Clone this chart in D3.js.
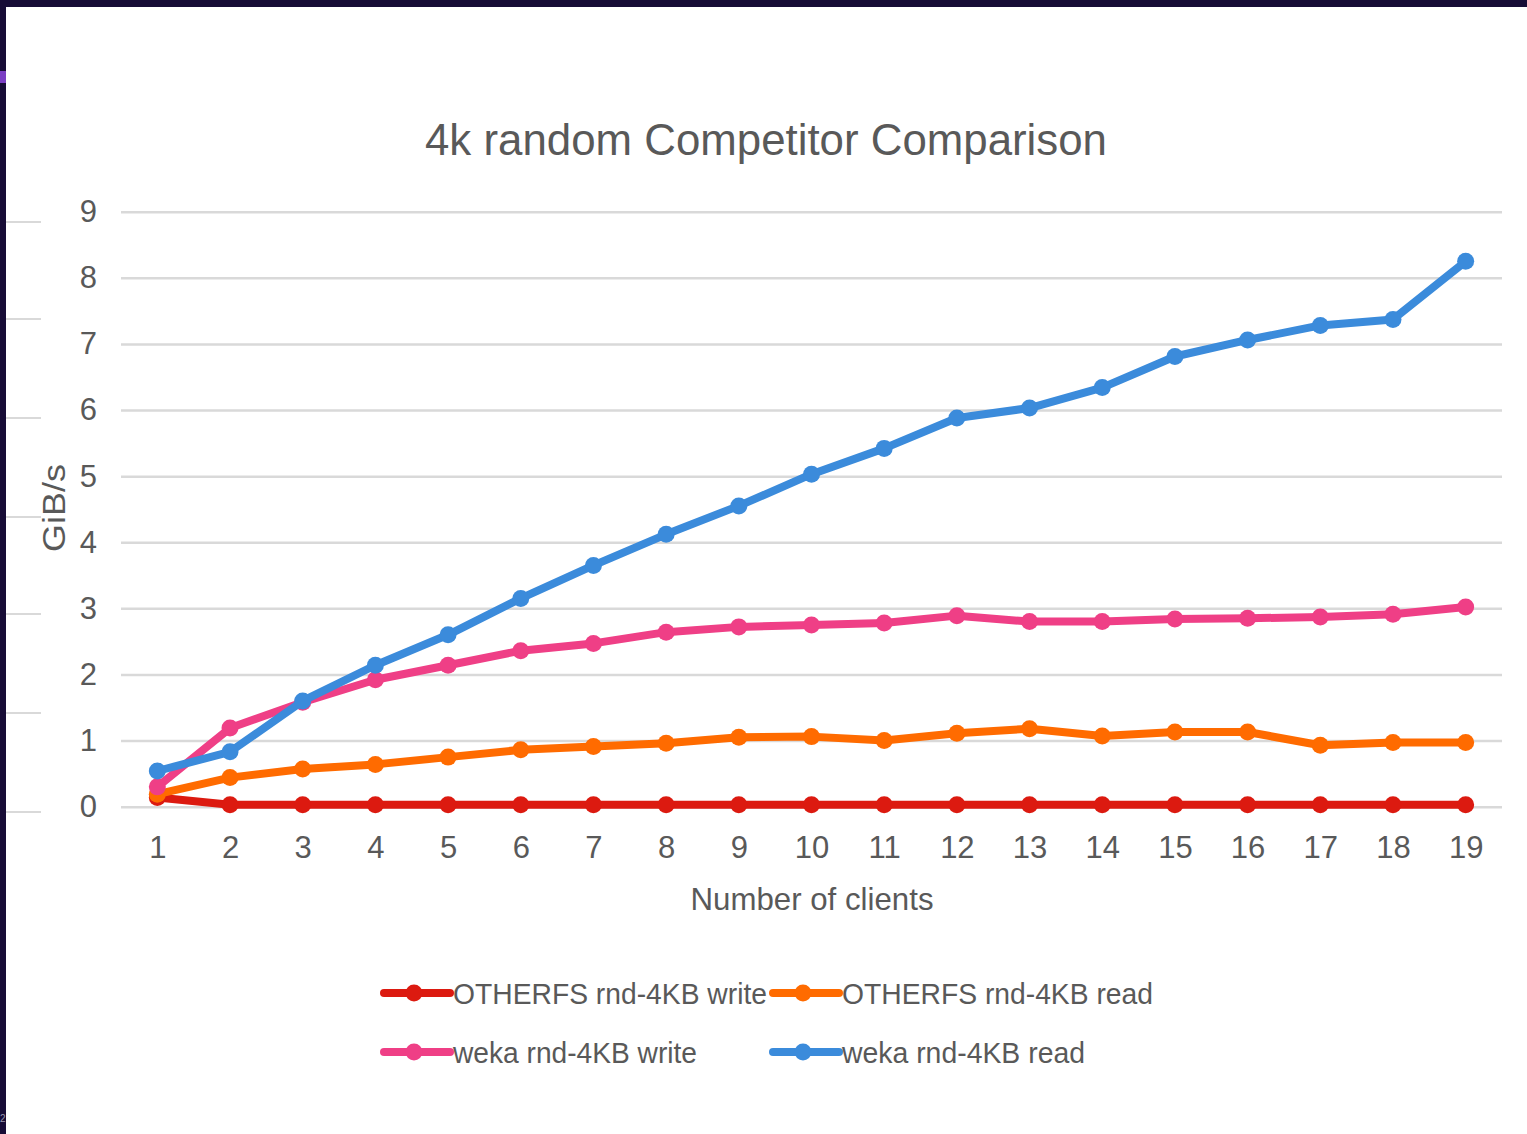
<!DOCTYPE html>
<html>
<head>
<meta charset="utf-8">
<script src="https://cdn.jsdelivr.net/npm/d3@7"></script>
<style>
  html, body { margin: 0; padding: 0; background: #ffffff; }
  svg { display: block; }
  text { font-family: "Liberation Sans", Arial, Helvetica, sans-serif; fill: #595959; }
</style>
</head>
<body>
<svg id="chart" width="1527" height="1134"></svg>
<script>
const clients = [1,2,3,4,5,6,7,8,9,10,11,12,13,14,15,16,17,18,19];
const yTicks = [0,1,2,3,4,5,6,7,8,9];

const otherfsWrite = [0.14,0.03,0.03,0.03,0.03,0.03,0.03,0.03,0.03,0.03,0.03,0.03,0.03,0.03,0.03,0.03,0.03,0.03,0.03];
const otherfsRead  = [0.19,0.44,0.57,0.64,0.75,0.86,0.91,0.96,1.05,1.06,1.00,1.11,1.18,1.07,1.13,1.13,0.93,0.97,0.97];
const wekaWrite    = [0.30,1.19,1.58,1.92,2.14,2.36,2.47,2.64,2.72,2.75,2.78,2.89,2.80,2.80,2.84,2.85,2.87,2.91,3.02];
const wekaRead     = [0.54,0.83,1.60,2.14,2.60,3.15,3.65,4.12,4.55,5.03,5.42,5.88,6.03,6.34,6.81,7.06,7.28,7.37,8.25];

const seriesNames  = ["OTHERFS rnd-4KB write","OTHERFS rnd-4KB read","weka rnd-4KB write","weka rnd-4KB read"];
const seriesColors = ["#dc1a10","#ff6b00","#ef3f86","#3b8bdb"];
const seriesValues = [otherfsWrite, otherfsRead, wekaWrite, wekaRead];

const chartTitle = "4k random Competitor Comparison";
const xTitle = "Number of clients";
const yTitle = "GiB/s";

const svg = d3.select("#chart");

// page frame decoration
svg.append("rect").attr("x",0).attr("y",0).attr("width",1527).attr("height",1134).attr("fill","#ffffff");
svg.append("rect").attr("x",0).attr("y",0).attr("width",1527).attr("height",7).attr("fill","#170c36");
svg.append("rect").attr("x",0).attr("y",0).attr("width",6).attr("height",1134).attr("fill","#170c36");
svg.append("rect").attr("x",0).attr("y",71).attr("width",6).attr("height",12).attr("fill","#7b3fc4");
svg.append("text").attr("x",0).attr("y",1122).attr("font-size",10).style("fill","#9a97b0").text("2");
// faint stray lines at left edge
[222,319,418,517,614,713,812].forEach(yy => {
  svg.append("line").attr("x1",6).attr("x2",41).attr("y1",yy).attr("y2",yy)
    .attr("stroke","#d9d9d9").attr("stroke-width",2);
});

const plotLeft = 121, plotRight = 1502, plotTop = 211.7, plotBottom = 806.7;

const x = d3.scalePoint().domain(clients).range([plotLeft, plotRight]).padding(0.5);
const y = d3.scaleLinear().domain([0, 9]).range([plotBottom, plotTop]);

// Title
svg.append("text").attr("x", 766).attr("y", 155).attr("text-anchor","middle")
  .attr("font-size", 45).attr("textLength", 682).attr("lengthAdjust","spacingAndGlyphs")
  .text(chartTitle);

// Y axis with gridlines
const yAxis = svg.append("g").attr("transform", `translate(${plotLeft},0)`)
  .call(d3.axisLeft(y).tickValues(yTicks).tickFormat(d3.format("d"))
        .tickSize(-(plotRight-plotLeft)).tickPadding(24));
yAxis.select(".domain").remove();
yAxis.selectAll(".tick line").attr("stroke","#d9d9d9").attr("stroke-width",2.5);
yAxis.selectAll(".tick text").attr("font-size",31).style("fill","#595959")
  .attr("font-family",'"Liberation Sans", Arial, sans-serif');

// X axis
const xAxis = svg.append("g").attr("transform", `translate(0,${plotBottom})`)
  .call(d3.axisBottom(x).tickSize(0).tickPadding(29));
xAxis.select(".domain").remove();
xAxis.selectAll(".tick text").attr("font-size",31).style("fill","#595959")
  .attr("font-family",'"Liberation Sans", Arial, sans-serif');

// Axis titles
svg.append("text").attr("x", 812).attr("y", 910).attr("text-anchor","middle")
  .attr("font-size", 32).attr("textLength", 243).attr("lengthAdjust","spacingAndGlyphs")
  .text(xTitle);
svg.append("text").attr("transform","translate(65,508) rotate(-90)").attr("text-anchor","middle")
  .attr("font-size", 31).attr("textLength", 88).attr("lengthAdjust","spacingAndGlyphs")
  .text(yTitle);

// Series
const line = d3.line().x((d,i) => x(clients[i])).y(d => y(d));
seriesValues.forEach((vals, si) => {
  const g = svg.append("g");
  g.append("path").datum(vals).attr("d", line).attr("fill","none")
    .attr("stroke", seriesColors[si]).attr("stroke-width", 8)
    .attr("stroke-linejoin","round").attr("stroke-linecap","round");
  g.selectAll("circle").data(vals).join("circle")
    .attr("cx",(d,i)=>x(clients[i])).attr("cy", d=>y(d)).attr("r", 8.5)
    .attr("fill", seriesColors[si]);
});

// Legend
const legendItems = [
  {lx: 384, ly: 993, tw: 314},
  {lx: 773, ly: 993, tw: 311},
  {lx: 384, ly: 1052, tw: 244},
  {lx: 773, ly: 1052, tw: 243}
];
legendItems.forEach((it, i) => {
  const g = svg.append("g");
  g.append("line").attr("x1", it.lx).attr("x2", it.lx+66).attr("y1", it.ly).attr("y2", it.ly)
    .attr("stroke", seriesColors[i]).attr("stroke-width", 8).attr("stroke-linecap","round");
  g.append("circle").attr("cx", it.lx+30).attr("cy", it.ly).attr("r", 8.5).attr("fill", seriesColors[i]);
  g.append("text").attr("x", it.lx+69).attr("y", it.ly+10.5).attr("font-size", 30)
    .attr("textLength", it.tw).attr("lengthAdjust","spacingAndGlyphs")
    .text(seriesNames[i]);
});
</script>
</body>
</html>
